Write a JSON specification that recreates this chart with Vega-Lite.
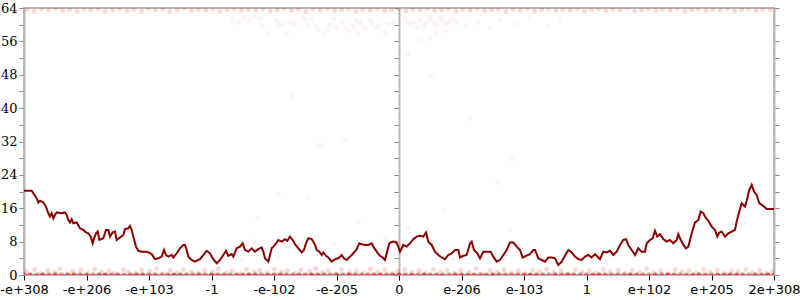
{
"$schema": "https://vega.github.io/schema/vega-lite/v6.json",
"autosize": {"type": "none"},
"padding": {"left": 24, "top": 8, "right": 26, "bottom": 25},
"width": 750,
"height": 267,
"config": {"view": {"stroke": "#b8b8b8", "strokeWidth": 2}},
"datasets": {
"curve": [
{"x":-6.000,"y":20.2},{"x":-5.877,"y":20.2},{"x":-5.851,"y":19.6},{"x":-5.797,"y":18.4},{"x":-5.771,"y":17.4},{"x":-5.744,"y":17.8},{"x":-5.691,"y":17.4},{"x":-5.648,"y":16.4},{"x":-5.611,"y":14.8},{"x":-5.584,"y":14.0},{"x":-5.557,"y":14.8},{"x":-5.531,"y":13.6},{"x":-5.504,"y":14.4},{"x":-5.477,"y":15.0},{"x":-5.397,"y":14.8},{"x":-5.344,"y":15.0},{"x":-5.317,"y":14.4},{"x":-5.291,"y":13.2},{"x":-5.264,"y":12.6},{"x":-5.237,"y":13.4},{"x":-5.211,"y":12.4},{"x":-5.157,"y":12.6},{"x":-5.104,"y":11.2},{"x":-5.051,"y":10.8},{"x":-5.008,"y":10.2},{"x":-4.971,"y":10.0},{"x":-4.933,"y":9.2},{"x":-4.901,"y":7.6},{"x":-4.880,"y":8.8},{"x":-4.848,"y":10.0},{"x":-4.821,"y":10.4},{"x":-4.795,"y":8.4},{"x":-4.731,"y":8.8},{"x":-4.688,"y":10.8},{"x":-4.651,"y":10.8},{"x":-4.624,"y":9.2},{"x":-4.581,"y":10.2},{"x":-4.544,"y":10.4},{"x":-4.517,"y":8.4},{"x":-4.464,"y":9.0},{"x":-4.411,"y":9.6},{"x":-4.384,"y":11.0},{"x":-4.331,"y":11.2},{"x":-4.304,"y":11.8},{"x":-4.277,"y":10.8},{"x":-4.251,"y":9.2},{"x":-4.208,"y":6.8},{"x":-4.171,"y":5.8},{"x":-4.117,"y":5.6},{"x":-4.037,"y":5.6},{"x":-3.957,"y":5.0},{"x":-3.904,"y":3.8},{"x":-3.851,"y":4.0},{"x":-3.797,"y":4.4},{"x":-3.760,"y":6.0},{"x":-3.728,"y":4.8},{"x":-3.691,"y":4.4},{"x":-3.637,"y":4.8},{"x":-3.611,"y":4.2},{"x":-3.557,"y":5.2},{"x":-3.504,"y":6.4},{"x":-3.451,"y":7.2},{"x":-3.424,"y":7.2},{"x":-3.397,"y":6.0},{"x":-3.371,"y":4.4},{"x":-3.317,"y":3.6},{"x":-3.264,"y":3.2},{"x":-3.211,"y":3.6},
{"x":-3.184,"y":3.8},{"x":-3.077,"y":5.8},{"x":-3.024,"y":5.2},{"x":-2.971,"y":3.8},{"x":-2.917,"y":2.8},{"x":-2.864,"y":3.6},{"x":-2.811,"y":4.8},{"x":-2.768,"y":5.8},{"x":-2.731,"y":4.6},{"x":-2.677,"y":5.0},{"x":-2.651,"y":4.4},{"x":-2.597,"y":6.4},{"x":-2.544,"y":6.8},{"x":-2.501,"y":7.6},{"x":-2.464,"y":6.0},{"x":-2.411,"y":5.6},{"x":-2.357,"y":6.4},{"x":-2.304,"y":5.6},{"x":-2.251,"y":6.2},{"x":-2.197,"y":6.6},{"x":-2.171,"y":5.6},{"x":-2.144,"y":4.0},{"x":-2.091,"y":3.2},{"x":-2.037,"y":6.4},{"x":-1.984,"y":7.2},{"x":-1.931,"y":8.4},{"x":-1.877,"y":8.0},{"x":-1.824,"y":8.6},{"x":-1.787,"y":8.2},{"x":-1.744,"y":9.2},{"x":-1.701,"y":8.4},{"x":-1.664,"y":7.4},{"x":-1.611,"y":6.4},{"x":-1.557,"y":5.4},{"x":-1.520,"y":6.0},{"x":-1.488,"y":7.6},{"x":-1.451,"y":8.8},{"x":-1.397,"y":8.6},{"x":-1.371,"y":8.0},{"x":-1.344,"y":7.2},{"x":-1.317,"y":6.0},{"x":-1.275,"y":5.6},{"x":-1.237,"y":4.8},{"x":-1.211,"y":5.4},{"x":-1.168,"y":4.6},{"x":-1.131,"y":4.2},{"x":-1.077,"y":3.2},{"x":-1.024,"y":3.8},{"x":-0.971,"y":4.0},{"x":-0.917,"y":4.8},{"x":-0.880,"y":4.0},{"x":-0.837,"y":3.6},{"x":-0.784,"y":4.4},{"x":-0.731,"y":5.2},{"x":-0.677,"y":6.2},{"x":-0.635,"y":7.6},{"x":-0.597,"y":7.4},{"x":-0.544,"y":7.2},{"x":-0.491,"y":7.2},{"x":-0.437,"y":7.6},{"x":-0.411,"y":6.8},{"x":-0.357,"y":5.6},{"x":-0.304,"y":4.6},{"x":-0.261,"y":4.2},{"x":-0.224,"y":3.6},{"x":-0.197,"y":5.2},{"x":-0.155,"y":7.6},{"x":-0.101,"y":8.0},{"x":-0.048,"y":7.9},{"x":-0.011,"y":6.8},
{"x":0.016,"y":5.6},{"x":0.069,"y":7.2},{"x":0.123,"y":6.8},{"x":0.176,"y":7.6},{"x":0.229,"y":8.6},{"x":0.283,"y":9.2},{"x":0.336,"y":9.4},{"x":0.389,"y":9.2},{"x":0.432,"y":10.2},{"x":0.469,"y":8.0},{"x":0.523,"y":7.2},{"x":0.576,"y":5.6},{"x":0.629,"y":4.8},{"x":0.683,"y":4.2},{"x":0.736,"y":3.8},{"x":0.789,"y":4.8},{"x":0.843,"y":5.2},{"x":0.896,"y":6.0},{"x":0.949,"y":6.0},{"x":0.976,"y":4.2},{"x":1.029,"y":4.6},{"x":1.083,"y":4.8},{"x":1.136,"y":7.6},{"x":1.163,"y":8.0},{"x":1.200,"y":6.0},{"x":1.253,"y":5.2},{"x":1.296,"y":4.0},{"x":1.349,"y":5.6},{"x":1.413,"y":5.6},{"x":1.467,"y":5.6},{"x":1.509,"y":4.4},{"x":1.563,"y":3.2},{"x":1.616,"y":3.6},{"x":1.669,"y":4.8},{"x":1.723,"y":6.0},{"x":1.776,"y":7.8},{"x":1.829,"y":7.8},{"x":1.883,"y":6.8},{"x":1.936,"y":6.0},{"x":1.979,"y":4.2},{"x":2.032,"y":4.6},{"x":2.096,"y":5.0},{"x":2.149,"y":6.0},{"x":2.176,"y":6.0},{"x":2.229,"y":4.0},{"x":2.283,"y":3.6},{"x":2.336,"y":3.2},{"x":2.389,"y":4.2},{"x":2.443,"y":4.2},{"x":2.496,"y":4.0},{"x":2.549,"y":2.4},{"x":2.603,"y":3.2},{"x":2.656,"y":4.6},{"x":2.709,"y":6.0},{"x":2.763,"y":5.4},{"x":2.816,"y":4.4},{"x":2.869,"y":3.8},{"x":2.923,"y":3.6},{"x":2.976,"y":4.4},{"x":3.029,"y":4.8},{"x":3.083,"y":4.2},{"x":3.136,"y":5.0},{"x":3.189,"y":4.2},
{"x":3.216,"y":3.8},{"x":3.269,"y":5.6},{"x":3.323,"y":5.4},{"x":3.376,"y":5.8},{"x":3.429,"y":4.8},{"x":3.483,"y":5.6},{"x":3.536,"y":7.2},{"x":3.589,"y":8.4},{"x":3.632,"y":8.6},{"x":3.669,"y":7.2},{"x":3.723,"y":6.0},{"x":3.776,"y":4.8},{"x":3.829,"y":6.4},{"x":3.883,"y":5.6},{"x":3.936,"y":5.6},{"x":3.963,"y":7.6},{"x":4.016,"y":8.4},{"x":4.059,"y":8.8},{"x":4.096,"y":10.6},{"x":4.133,"y":9.2},{"x":4.176,"y":9.8},{"x":4.229,"y":8.6},{"x":4.283,"y":8.0},{"x":4.336,"y":8.4},{"x":4.389,"y":7.6},{"x":4.443,"y":8.4},{"x":4.469,"y":9.8},{"x":4.496,"y":8.8},{"x":4.549,"y":7.2},{"x":4.592,"y":6.4},{"x":4.629,"y":6.8},{"x":4.683,"y":10.0},{"x":4.736,"y":12.6},{"x":4.789,"y":13.2},{"x":4.827,"y":15.2},{"x":4.869,"y":14.8},{"x":4.912,"y":13.6},{"x":4.949,"y":13.0},{"x":5.003,"y":11.6},{"x":5.056,"y":10.8},{"x":5.093,"y":9.2},{"x":5.125,"y":10.2},{"x":5.163,"y":10.4},{"x":5.216,"y":9.2},{"x":5.269,"y":10.0},{"x":5.323,"y":10.4},{"x":5.376,"y":10.8},{"x":5.403,"y":12.8},{"x":5.445,"y":15.2},{"x":5.483,"y":17.2},{"x":5.536,"y":16.4},{"x":5.563,"y":17.8},{"x":5.605,"y":20.4},{"x":5.643,"y":21.6},{"x":5.680,"y":20.0},{"x":5.723,"y":19.2},{"x":5.765,"y":17.2},{"x":5.803,"y":16.8},{"x":5.840,"y":16.4},{"x":5.883,"y":15.8},{"x":5.936,"y":15.8},{"x":6.000,"y":15.8}
],
"pts": [
{"x":-6.0,"y":0,"n":8},{"x":-5.9,"y":0,"n":9},{"x":-5.8,"y":0,"n":7},{"x":-5.7,"y":0,"n":10},{"x":-5.6,"y":0,"n":8},{"x":-5.5,"y":0,"n":9},{"x":-5.4,"y":0,"n":7},{"x":-5.3,"y":0,"n":8},{"x":-5.2,"y":0,"n":10},{"x":-5.1,"y":0,"n":9},{"x":-5.0,"y":0,"n":8},{"x":-4.9,"y":0,"n":7},{"x":-4.8,"y":0,"n":9},{"x":-4.7,"y":0,"n":10},{"x":-4.6,"y":0,"n":8},{"x":-4.5,"y":0,"n":9},{"x":-4.4,"y":0,"n":7},{"x":-4.3,"y":0,"n":8},{"x":-4.2,"y":0,"n":9},{"x":-4.1,"y":0,"n":10},{"x":-4.0,"y":0,"n":8},{"x":-3.9,"y":0,"n":9},{"x":-3.8,"y":0,"n":7},{"x":-3.7,"y":0,"n":8},{"x":-3.6,"y":0,"n":10},{"x":-3.5,"y":0,"n":9},{"x":-3.4,"y":0,"n":8},{"x":-3.3,"y":0,"n":7},{"x":-3.2,"y":0,"n":9},{"x":-3.1,"y":0,"n":8},{"x":-3.0,"y":0,"n":10},{"x":-2.9,"y":0,"n":9},{"x":-2.8,"y":0,"n":8},{"x":-2.7,"y":0,"n":7},{"x":-2.6,"y":0,"n":9},{"x":-2.5,"y":0,"n":8},{"x":-2.4,"y":0,"n":10},{"x":-2.3,"y":0,"n":9},{"x":-2.2,"y":0,"n":7},{"x":-2.1,"y":0,"n":8},{"x":-2.0,"y":0,"n":9},{"x":-1.9,"y":0,"n":10},{"x":-1.8,"y":0,"n":8},{"x":-1.7,"y":0,"n":7},{"x":-1.6,"y":0,"n":9},{"x":-1.5,"y":0,"n":8},{"x":-1.4,"y":0,"n":10},{"x":-1.3,"y":0,"n":9},{"x":-1.2,"y":0,"n":8},{"x":-1.1,"y":0,"n":7},{"x":-1.0,"y":0,"n":9},{"x":-0.9,"y":0,"n":8},{"x":-0.8,"y":0,"n":10},{"x":-0.7,"y":0,"n":9},{"x":-0.6,"y":0,"n":7},{"x":-0.5,"y":0,"n":8},{"x":-0.4,"y":0,"n":9},{"x":-0.3,"y":0,"n":10},{"x":-0.2,"y":0,"n":8},{"x":-0.1,"y":0,"n":9},{"x":0.0,"y":0,"n":10},{"x":0.1,"y":0,"n":8},{"x":0.2,"y":0,"n":9},{"x":0.3,"y":0,"n":7},{"x":0.4,"y":0,"n":10},{"x":0.5,"y":0,"n":8},{"x":0.6,"y":0,"n":9},{"x":0.7,"y":0,"n":8},{"x":0.8,"y":0,"n":7},{"x":0.9,"y":0,"n":9},{"x":1.0,"y":0,"n":10},{"x":1.1,"y":0,"n":8},{"x":1.2,"y":0,"n":9},{"x":1.3,"y":0,"n":7},{"x":1.4,"y":0,"n":8},{"x":1.5,"y":0,"n":10},{"x":1.6,"y":0,"n":9},{"x":1.7,"y":0,"n":8},{"x":1.8,"y":0,"n":7},{"x":1.9,"y":0,"n":9},{"x":2.0,"y":0,"n":8},{"x":2.1,"y":0,"n":10},{"x":2.2,"y":0,"n":9},{"x":2.3,"y":0,"n":8},{"x":2.4,"y":0,"n":7},{"x":2.5,"y":0,"n":9},{"x":2.6,"y":0,"n":8},{"x":2.7,"y":0,"n":10},{"x":2.8,"y":0,"n":9},{"x":2.9,"y":0,"n":7},{"x":3.0,"y":0,"n":8},{"x":3.1,"y":0,"n":9},{"x":3.2,"y":0,"n":10},{"x":3.3,"y":0,"n":8},{"x":3.4,"y":0,"n":7},{"x":3.5,"y":0,"n":9},{"x":3.6,"y":0,"n":8},{"x":3.7,"y":0,"n":10},{"x":3.8,"y":0,"n":9},{"x":3.9,"y":0,"n":8},{"x":4.0,"y":0,"n":7},{"x":4.1,"y":0,"n":9},{"x":4.2,"y":0,"n":8},{"x":4.3,"y":0,"n":10},{"x":4.4,"y":0,"n":9},{"x":4.5,"y":0,"n":7},{"x":4.6,"y":0,"n":8},{"x":4.7,"y":0,"n":9},{"x":4.8,"y":0,"n":10},{"x":4.9,"y":0,"n":8},{"x":5.0,"y":0,"n":7},{"x":5.1,"y":0,"n":9},{"x":5.2,"y":0,"n":8},{"x":5.3,"y":0,"n":10},{"x":5.4,"y":0,"n":9},{"x":5.5,"y":0,"n":8},{"x":5.6,"y":0,"n":7},{"x":5.7,"y":0,"n":9},{"x":5.8,"y":0,"n":8},{"x":5.9,"y":0,"n":10},{"x":6.0,"y":0,"n":9},
{"x":-5.96,"y":0.8,"n":2},{"x":-5.83,"y":1.3,"n":2},{"x":-5.74,"y":0.4,"n":2},{"x":-5.62,"y":1.1,"n":2},{"x":-5.51,"y":0.6,"n":2},{"x":-5.43,"y":1.5,"n":2},{"x":-5.31,"y":0.3,"n":2},{"x":-5.22,"y":0.9,"n":2},{"x":-5.09,"y":1.2,"n":2},{"x":-4.98,"y":0.5,"n":2},{"x":-4.87,"y":1.4,"n":2},{"x":-4.76,"y":0.7,"n":2},{"x":-4.64,"y":1.0,"n":2},{"x":-4.55,"y":0.4,"n":2},{"x":-4.41,"y":1.3,"n":2},{"x":-4.33,"y":0.8,"n":2},{"x":-4.21,"y":0.5,"n":2},{"x":-4.12,"y":1.2,"n":2},{"x":-3.99,"y":0.9,"n":2},{"x":-3.88,"y":1.5,"n":2},{"x":-3.77,"y":0.3,"n":2},{"x":-3.66,"y":1.1,"n":2},{"x":-3.54,"y":0.6,"n":2},{"x":-3.45,"y":1.3,"n":2},{"x":-3.32,"y":0.8,"n":2},{"x":-3.21,"y":0.4,"n":2},{"x":-3.11,"y":1.2,"n":2},{"x":-2.98,"y":0.7,"n":2},{"x":-2.89,"y":1.4,"n":2},{"x":-2.76,"y":0.5,"n":2},{"x":-2.67,"y":1.0,"n":2},{"x":-2.53,"y":0.3,"n":2},{"x":-2.44,"y":1.3,"n":2},{"x":-2.32,"y":0.8,"n":2},{"x":-2.23,"y":1.1,"n":2},{"x":-2.11,"y":0.5,"n":2},{"x":-1.99,"y":1.4,"n":2},{"x":-1.88,"y":0.7,"n":2},{"x":-1.79,"y":1.0,"n":2},{"x":-1.66,"y":0.4,"n":2},{"x":-1.57,"y":1.2,"n":2},{"x":-1.43,"y":0.9,"n":2},{"x":-1.34,"y":1.5,"n":2},{"x":-1.22,"y":0.6,"n":2},{"x":-1.13,"y":1.1,"n":2},{"x":-1.01,"y":0.3,"n":2},{"x":-0.92,"y":1.3,"n":2},{"x":-0.79,"y":0.8,"n":2},{"x":-0.68,"y":1.0,"n":2},{"x":-0.57,"y":0.5,"n":2},{"x":-0.46,"y":1.4,"n":2},{"x":-0.34,"y":0.7,"n":2},{"x":-0.23,"y":1.2,"n":2},{"x":-0.12,"y":0.4,"n":2},{"x":-0.02,"y":0.9,"n":2},{"x":0.09,"y":1.3,"n":2},{"x":0.21,"y":0.6,"n":2},{"x":0.32,"y":1.1,"n":2},{"x":0.43,"y":0.4,"n":2},{"x":0.55,"y":1.4,"n":2},{"x":0.66,"y":0.8,"n":2},{"x":0.77,"y":1.0,"n":2},{"x":0.88,"y":0.5,"n":2},{"x":0.99,"y":1.2,"n":2},{"x":1.12,"y":0.7,"n":2},{"x":1.23,"y":1.5,"n":2},{"x":1.34,"y":0.3,"n":2},{"x":1.46,"y":1.1,"n":2},{"x":1.57,"y":0.8,"n":2},{"x":1.68,"y":1.3,"n":2},{"x":1.79,"y":0.5,"n":2},{"x":1.91,"y":1.0,"n":2},{"x":2.02,"y":0.4,"n":2},{"x":2.14,"y":1.2,"n":2},{"x":2.25,"y":0.9,"n":2},{"x":2.36,"y":1.4,"n":2},{"x":2.48,"y":0.6,"n":2},{"x":2.59,"y":1.1,"n":2},{"x":2.71,"y":0.3,"n":2},{"x":2.82,"y":1.3,"n":2},{"x":2.93,"y":0.7,"n":2},{"x":3.04,"y":1.0,"n":2},{"x":3.16,"y":0.5,"n":2},{"x":3.27,"y":1.4,"n":2},{"x":3.38,"y":0.8,"n":2},{"x":3.51,"y":1.2,"n":2},{"x":3.62,"y":0.4,"n":2},{"x":3.73,"y":1.1,"n":2},{"x":3.85,"y":0.7,"n":2},{"x":3.96,"y":1.5,"n":2},{"x":4.07,"y":0.6,"n":2},{"x":4.19,"y":1.0,"n":2},{"x":4.31,"y":0.3,"n":2},{"x":4.42,"y":1.3,"n":2},{"x":4.53,"y":0.8,"n":2},{"x":4.64,"y":1.1,"n":2},{"x":4.76,"y":0.5,"n":2},{"x":4.87,"y":1.4,"n":2},{"x":4.98,"y":0.7,"n":2},{"x":5.09,"y":1.2,"n":2},{"x":5.21,"y":0.4,"n":2},{"x":5.32,"y":1.0,"n":2},{"x":5.43,"y":0.8,"n":2},{"x":5.55,"y":1.3,"n":2},{"x":5.66,"y":0.6,"n":2},{"x":5.77,"y":1.1,"n":2},{"x":5.88,"y":0.4,"n":2},{"x":5.97,"y":0.9,"n":2},
{"x":-5.95,"y":63.6,"n":2},{"x":-5.84,"y":63.3,"n":2},{"x":-5.72,"y":63.8,"n":2},{"x":-5.61,"y":63.5,"n":2},{"x":-5.49,"y":63.9,"n":2},{"x":-5.38,"y":63.4,"n":2},{"x":-5.27,"y":63.7,"n":2},{"x":-5.15,"y":63.2,"n":2},{"x":-5.04,"y":63.8,"n":2},{"x":-4.93,"y":63.5,"n":2},{"x":-4.81,"y":63.9,"n":2},{"x":-4.70,"y":63.3,"n":2},{"x":-4.58,"y":63.6,"n":2},{"x":-4.47,"y":63.8,"n":2},{"x":-4.35,"y":63.4,"n":2},{"x":-4.24,"y":63.7,"n":2},{"x":-4.12,"y":63.3,"n":2},{"x":-4.01,"y":63.9,"n":2},{"x":-3.90,"y":63.5,"n":2},{"x":-3.78,"y":63.8,"n":2},{"x":-3.67,"y":63.2,"n":2},{"x":-3.55,"y":63.6,"n":2},{"x":-3.44,"y":63.9,"n":2},{"x":-3.32,"y":63.4,"n":2},{"x":-3.21,"y":63.7,"n":2},{"x":-3.09,"y":63.5,"n":2},{"x":-2.98,"y":63.8,"n":2},{"x":-2.87,"y":63.3,"n":2},{"x":-2.75,"y":63.6,"n":2},{"x":-2.64,"y":63.9,"n":2},{"x":-2.52,"y":63.4,"n":2},{"x":-2.41,"y":63.7,"n":2},{"x":-2.29,"y":63.5,"n":2},{"x":-2.18,"y":63.8,"n":2},{"x":-2.06,"y":63.3,"n":2},{"x":-1.95,"y":63.6,"n":2},{"x":-1.84,"y":63.9,"n":2},{"x":-1.72,"y":63.4,"n":2},{"x":-1.61,"y":63.7,"n":2},{"x":-1.49,"y":63.2,"n":2},{"x":-1.38,"y":63.8,"n":2},{"x":-1.26,"y":63.5,"n":2},{"x":-1.15,"y":63.9,"n":2},{"x":-1.03,"y":63.4,"n":2},{"x":-0.92,"y":63.6,"n":2},{"x":-0.81,"y":63.8,"n":2},{"x":-0.69,"y":63.3,"n":2},{"x":-0.58,"y":63.7,"n":2},{"x":-0.46,"y":63.5,"n":2},{"x":-0.35,"y":63.9,"n":2},{"x":-0.23,"y":63.4,"n":2},{"x":-0.12,"y":63.6,"n":2},{"x":-0.01,"y":63.8,"n":2},{"x":0.11,"y":63.3,"n":2},{"x":0.22,"y":63.7,"n":2},{"x":0.34,"y":63.5,"n":2},{"x":0.45,"y":63.9,"n":2},{"x":0.57,"y":63.4,"n":2},{"x":0.68,"y":63.6,"n":2},{"x":0.79,"y":63.8,"n":2},{"x":0.91,"y":63.3,"n":2},{"x":1.02,"y":63.7,"n":2},{"x":1.14,"y":63.5,"n":2},{"x":1.25,"y":63.9,"n":2},{"x":1.37,"y":63.4,"n":2},{"x":1.48,"y":63.6,"n":2},{"x":1.59,"y":63.8,"n":2},{"x":1.71,"y":63.2,"n":2},{"x":1.82,"y":63.7,"n":2},{"x":1.94,"y":63.5,"n":2},{"x":2.05,"y":63.9,"n":2},{"x":2.17,"y":63.3,"n":2},{"x":2.28,"y":63.6,"n":2},{"x":2.39,"y":63.8,"n":2},{"x":2.51,"y":63.4,"n":2},{"x":2.62,"y":63.7,"n":2},{"x":2.74,"y":63.5,"n":2},{"x":2.85,"y":63.9,"n":2},{"x":2.97,"y":63.3,"n":2},{"x":3.08,"y":63.6,"n":2},{"x":3.19,"y":63.8,"n":2},{"x":3.31,"y":63.4,"n":2},{"x":3.42,"y":63.7,"n":2},{"x":3.54,"y":63.5,"n":2},{"x":3.65,"y":63.9,"n":2},{"x":3.77,"y":63.3,"n":2},{"x":3.88,"y":63.6,"n":2},{"x":3.99,"y":63.8,"n":2},{"x":4.11,"y":63.4,"n":2},{"x":4.22,"y":63.7,"n":2},{"x":4.34,"y":63.5,"n":2},{"x":4.45,"y":63.9,"n":2},{"x":4.57,"y":63.3,"n":2},{"x":4.68,"y":63.6,"n":2},{"x":4.79,"y":63.8,"n":2},{"x":4.91,"y":63.4,"n":2},{"x":5.02,"y":63.7,"n":2},{"x":5.14,"y":63.5,"n":2},{"x":5.25,"y":63.9,"n":2},{"x":5.37,"y":63.3,"n":2},{"x":5.48,"y":63.6,"n":2},{"x":5.59,"y":63.8,"n":2},{"x":5.71,"y":63.4,"n":2},{"x":5.82,"y":63.7,"n":2},{"x":5.94,"y":63.5,"n":2},
{"x":-2.672,"y":61.4,"n":1},{"x":-2.576,"y":60.6,"n":1},{"x":-2.480,"y":61.8,"n":1},{"x":-2.400,"y":61.1,"n":1},{"x":-2.320,"y":62.1,"n":1},{"x":-2.224,"y":61.6,"n":1},{"x":-2.208,"y":59.9,"n":1},{"x":-2.096,"y":58.0,"n":1},{"x":-1.968,"y":61.1,"n":1},{"x":-1.936,"y":60.2,"n":1},{"x":-1.872,"y":59.9,"n":1},{"x":-1.792,"y":58.0,"n":1},{"x":-1.744,"y":60.6,"n":1},{"x":-1.664,"y":60.2,"n":1},{"x":-1.536,"y":61.6,"n":1},{"x":-1.488,"y":61.1,"n":1},{"x":-1.456,"y":59.9,"n":1},{"x":-1.392,"y":61.4,"n":1},{"x":-1.328,"y":59.7,"n":1},{"x":-1.296,"y":58.7,"n":1},{"x":-1.216,"y":58.0,"n":1},{"x":-1.136,"y":58.7,"n":1},{"x":-1.104,"y":59.9,"n":1},{"x":-1.040,"y":61.4,"n":1},{"x":-0.992,"y":59.4,"n":1},{"x":-0.896,"y":60.4,"n":1},{"x":-0.848,"y":59.2,"n":1},{"x":-0.800,"y":58.5,"n":1},{"x":-0.736,"y":59.7,"n":1},{"x":-0.688,"y":61.1,"n":1},{"x":-0.672,"y":58.0,"n":1},{"x":-0.624,"y":60.4,"n":1},{"x":-0.544,"y":59.0,"n":1},{"x":-0.464,"y":61.1,"n":1},{"x":-0.432,"y":60.4,"n":1},{"x":-0.368,"y":59.4,"n":1},{"x":-0.320,"y":59.9,"n":1},{"x":-0.224,"y":58.2,"n":1},{"x":-0.176,"y":60.2,"n":1},{"x":-0.096,"y":60.4,"n":1},{"x":0.096,"y":61.6,"n":1},{"x":0.128,"y":60.6,"n":1},{"x":0.176,"y":60.2,"n":1},{"x":0.240,"y":60.6,"n":1},{"x":0.288,"y":59.4,"n":1},{"x":0.336,"y":61.1,"n":1},{"x":0.400,"y":59.7,"n":1},{"x":0.432,"y":60.4,"n":1},{"x":0.480,"y":61.1,"n":1},{"x":0.512,"y":61.8,"n":1},{"x":0.560,"y":60.6,"n":1},{"x":0.608,"y":59.9,"n":1},{"x":0.656,"y":61.6,"n":1},{"x":0.704,"y":61.1,"n":1},{"x":0.736,"y":60.2,"n":1},{"x":0.800,"y":60.6,"n":1},{"x":0.864,"y":61.4,"n":1},{"x":0.912,"y":60.6,"n":1},{"x":0.144,"y":53.0,"n":1},{"x":0.320,"y":56.3,"n":1},{"x":0.480,"y":56.6,"n":1},{"x":0.592,"y":58.0,"n":1},{"x":0.752,"y":58.5,"n":1},{"x":1.056,"y":59.9,"n":1},{"x":1.264,"y":60.6,"n":1},{"x":1.456,"y":59.2,"n":1},{"x":1.616,"y":61.1,"n":1},{"x":1.856,"y":60.2,"n":1},{"x":2.096,"y":61.4,"n":1},{"x":2.384,"y":59.7,"n":1},{"x":2.576,"y":60.9,"n":1},
{"x":-1.920,"y":19.4,"n":1},{"x":-1.472,"y":18.5,"n":1},{"x":-2.272,"y":13.7,"n":1},{"x":-2.320,"y":8.1,"n":1},{"x":-2.528,"y":3.6,"n":1},{"x":-1.952,"y":4.3,"n":1},{"x":-1.312,"y":1.7,"n":1},{"x":-1.040,"y":7.7,"n":1},{"x":-0.640,"y":12.7,"n":1},{"x":-0.224,"y":9.1,"n":1},{"x":1.568,"y":22.1,"n":1},{"x":0.736,"y":15.6,"n":1},{"x":0.144,"y":11.3,"n":1},{"x":1.776,"y":10.8,"n":1},{"x":0.864,"y":3.6,"n":1},{"x":-1.712,"y":42.9,"n":1},{"x":-1.264,"y":31.2,"n":1},{"x":-0.864,"y":32.4,"n":1},{"x":0.512,"y":47.5,"n":1},{"x":1.136,"y":37.6,"n":1},{"x":1.808,"y":27.6,"n":1}
]
},
"encoding": {
"x": {"field": "x", "type": "quantitative", "scale": {"domain": [-6, 6], "nice": false, "zero": false},
"axis": {"values": [-6,-5,-4,-3,-2,-1,0,1,2,3,4,5,6], "title": null, "grid": false, "domain": false,
"labelExpr": "['-e+308','-e+206','-e+103','-1','-e-102','-e-205','0','e-206','e-103','1','e+102','e+205','2e+308'][round(datum.value)+6]",
"tickColor": "#000", "tickSize": 5, "labelPadding": 3, "labelFont": "DejaVu Sans", "labelFontSize": 13, "labelColor": "#000", "labelFlush": false, "labelOverlap": false,
"encode": {"ticks": {"update": {"y": {"value": -7}, "y2": {"value": 5}}}}}}
},
"layer": [
{
"data": {"name": "pts"},
"mark": {"type": "circle", "color": "#ee0000", "size": 25, "clip": true},
"encoding": {
"y": {"field": "y", "type": "quantitative", "scale": {"domain": [0, 64], "nice": false, "zero": false},
"axis": {"values": [0,4,8,12,16,20,24,28,32,36,40,44,48,52,56,60,64], "title": null, "grid": false,
"labelExpr": "datum.value % 8 === 0 ? datum.label : ''",
"domainColor": "#b8b8b8", "domainWidth": 2, "tickSize": 5, "labelPadding": 2, "labelFont": "DejaVu Serif", "labelFontSize": 13, "labelColor": "#000", "labelFlush": false, "labelOverlap": false,
"encode": {"ticks": {"update": {"x": {"signal": "datum.value % 8 === 0 ? 6 : 2"}, "x2": {"signal": "datum.value % 8 === 0 ? -5 : -3"}, "stroke": {"signal": "datum.value % 8 === 0 ? '#000' : '#808080'"}}}}}},
"opacity": {"field": "n", "type": "quantitative", "scale": {"domain": [1, 2, 10], "range": [0.045, 0.15, 0.65]}, "legend": null}
}
},
{
"data": {"name": "curve"},
"mark": {"type": "line", "color": "#8b0000", "strokeWidth": 2},
"encoding": {
"y": {"field": "y", "type": "quantitative",
"axis": {"orient": "right", "values": [0,4,8,12,16,20,24,28,32,36,40,44,48,52,56,60,64], "title": null, "grid": false, "labels": false,
"domainColor": "#b8b8b8", "domainWidth": 2, "tickSize": 5,
"encode": {"ticks": {"update": {"x": {"signal": "datum.value % 8 === 0 ? -6 : -3"}, "x2": {"signal": "datum.value % 8 === 0 ? 5 : 3"}, "stroke": {"signal": "datum.value % 8 === 0 ? '#000' : '#808080'"}}}}}}
}
},
{
"data": {"name": "curve"},
"mark": {"type": "point", "opacity": 0},
"encoding": {
"y": {"field": "y", "type": "quantitative",
"axis": {"orient": "left", "offset": -375, "values": [0,4,8,12,16,20,24,28,32,36,40,44,48,52,56,60,64], "title": null, "grid": false, "labels": false,
"domainColor": "#b8b8b8", "domainWidth": 2, "tickSize": 5,
"encode": {"ticks": {"update": {"x": {"signal": "datum.value % 8 === 0 ? 6 : 3"}, "x2": {"signal": "datum.value % 8 === 0 ? -6 : -3"}, "stroke": {"signal": "datum.value % 8 === 0 ? '#000' : '#808080'"}}}}}}
}
}
],
"resolve": {"axis": {"y": "independent"}}
}
